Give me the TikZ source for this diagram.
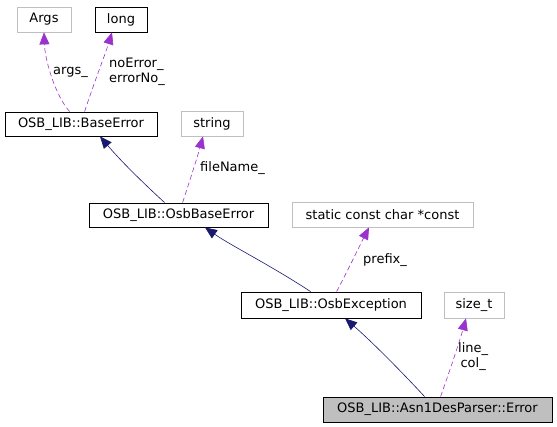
\documentclass[tikz,border=0pt]{standalone}
\usepackage{fontspec}
\setmainfont{DejaVu Sans}
\usetikzlibrary{arrows.meta}
\definecolor{edgepurple}{HTML}{9A32CD}
\definecolor{edgenavy}{HTML}{191970}
\definecolor{boxgray}{HTML}{BFBFBF}
\begin{document}
\begin{tikzpicture}[x=1pt,y=-1pt,
  every node/.style={font=\fontsize{13}{15}\selectfont},
  cls/.style={draw=black, fill=white, inner sep=0pt, line width=0.8pt},
  ext/.style={draw=boxgray, fill=white, inner sep=0pt, line width=0.8pt},
  cur/.style={draw=black, fill=boxgray, inner sep=0pt, line width=0.8pt},
  inh/.style={draw=edgenavy, line width=0.6pt, -{Triangle[length=12pt,width=10pt]}},
  use/.style={draw=edgepurple, line width=0.6pt, dashed, dash pattern=on 5pt off 3pt, -{Triangle[length=12pt,width=10pt]}},
  lbl/.style={inner sep=0pt, align=left, anchor=west}
]
\useasboundingbox (0,0) rectangle (557,427);
\newcommand{\bx}[6]{\node[#1, minimum width=#4-#2, minimum height=#5-#3] (#6) at ({(#2+#4)/2},{(#3+#5)/2}) {};}
\bx{ext}{17}{7}{71}{32}{args}
\node at (args) {Args};
\bx{cls}{95}{7}{147}{32}{long}
\node at (long) {long};
\bx{cls}{5}{112}{157}{136}{base}
\node at (base) {OSB\_LIB::BaseError};
\bx{ext}{181}{111}{243}{136}{string}
\node at (string) {string};
\bx{cls}{89}{203}{268}{227}{osbbase}
\node at (osbbase) {OSB\_LIB::OsbBaseError};
\bx{ext}{292}{202}{473}{227}{static}
\node at (static) {static const char *const};
\bx{cls}{241}{292}{421}{318}{osbexc}
\node at (osbexc) {OSB\_LIB::OsbException};
\bx{ext}{444}{292}{504}{318}{sizet}
\node at (sizet) {size\_t};
\bx{cur}{323}{397}{552}{422}{err}
\node at (err) {OSB\_LIB::Asn1DesParser::Error};

\draw[use] (base.north west) ++(65,0) coordinate (a1) .. controls (55,95) and (45,60) .. (args.south -| 44,0);
\draw[use] (base.north west) ++(80,0) coordinate (a2) .. controls (95,80) and (105,55) .. (long.south -| 112,0);
\draw[inh] (osbbase.north west) ++(76,0) coordinate (a3) .. controls (140,180) and (120,160) .. (base.south -| 100,0);
\draw[use] (osbbase.north west) ++(94,0) coordinate (a4) .. controls (190,180) and (198,155) .. (string.south -| 203,0);
\draw[inh] (osbexc.north west) ++(70,0) coordinate (a5) .. controls (270,265) and (230,245) .. (osbbase.south -| 205,0);
\draw[use] (osbexc.north west) ++(96,0) coordinate (a6) .. controls (348,270) and (360,245) .. (static.south -| 369,0);
\draw[inh] (err.north west) ++(102,0) coordinate (a7) .. controls (400,370) and (370,340) .. (osbexc.south -| 345,0);
\draw[use] (err.north west) ++(118,0) coordinate (a8) .. controls (450,370) and (460,340) .. (sizet.south -| 466,0);

\node[lbl] at (53,72) {args\_};
\node[lbl] at (109,72) {noError\_\\errorNo\_};
\node[lbl] at (200,168) {fileName\_};
\node[lbl] at (363,260) {prefix\_};
\node[lbl, align=center] at (458,357) {line\_\\col\_};
\end{tikzpicture}
\end{document}
